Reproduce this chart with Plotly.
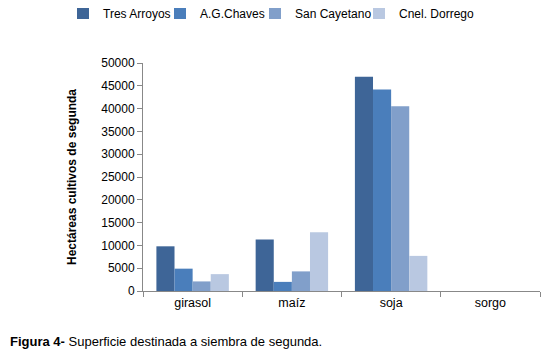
import plotly.graph_objects as go

categories = ["girasol", "maíz", "soja", "sorgo"]
tres_arroyos = [9800, 11300, 47000, 0]
ag_chaves = [4900, 2000, 44200, 0]
san_cayetano = [2100, 4300, 40500, 0]
cnel_dorrego = [3700, 12900, 7700, 0]
series_names = ["Tres Arroyos", "A.G.Chaves", "San Cayetano", "Cnel. Dorrego"]
colors = ["#3E6597", "#4A7EBB", "#819FCA", "#B9C8E1"]
legend_ids = ["legend", "legend2", "legend3", "legend4"]
legend_px = [55, 152, 247, 351]

fig = go.Figure()
for name, vals, c, lg in zip(series_names, [tres_arroyos, ag_chaves, san_cayetano, cnel_dorrego], colors, legend_ids):
    fig.add_trace(go.Bar(name=name, x=categories, y=vals, legend=lg,
                         marker=dict(color=c, line=dict(width=0))))

# page body adds an 8px offset; work in figure coordinates
W, H = 550, 350
ml, mr, mt, mb = 135, 18, 55, 67
pw = W - ml - mr
ph = H - mt - mb
leg_y = 1 + (mt - 5) / ph
common_leg = dict(orientation="h", xref="paper", yref="paper", yanchor="middle", xanchor="left",
                  font=dict(size=12), itemwidth=30, tracegroupgap=0, borderwidth=0,
                  bgcolor="rgba(0,0,0,0)")
legends = {lg: dict(x=(px - ml) / pw, y=leg_y, **common_leg) for lg, px in zip(legend_ids, legend_px)}
fig.update_layout(
    width=W, height=H,
    margin=dict(l=ml, r=mr, t=mt, b=mb, autoexpand=False),
    paper_bgcolor="white", plot_bgcolor="white",
    barmode="group", bargap=0.27, bargroupgap=0,
    font=dict(family="Liberation Sans, Arial, sans-serif", size=12, color="#000000"),
    showlegend=True,
    **legends,
)
fig.update_xaxes(showline=True, linecolor="#888888", linewidth=1, ticks="outside",
                 tickson="boundaries", ticklen=5, tickcolor="#888888", showgrid=False,
                 tickfont=dict(size=12.5), automargin=False)
fig.update_yaxes(range=[0, 50000], dtick=5000, showline=True, linecolor="#888888", linewidth=1,
                 ticks="outside", ticklen=5, tickcolor="#888888", showgrid=False, zeroline=False,
                 tickformat="d", tickfont=dict(size=12), automargin=False,
                 title=dict(text="<b>Hectáreas cultivos de segunda</b>", font=dict(size=12), standoff=22))

fig.add_annotation(text="<b>Figura 4-</b> Superficie destinada a siembra de segunda.",
                   xref="paper", yref="paper", x=(0 - ml) / pw, y=(283 - 333) / ph,
                   xanchor="left", yanchor="middle", showarrow=False, font=dict(size=13))

fig.write_html("out.html")
